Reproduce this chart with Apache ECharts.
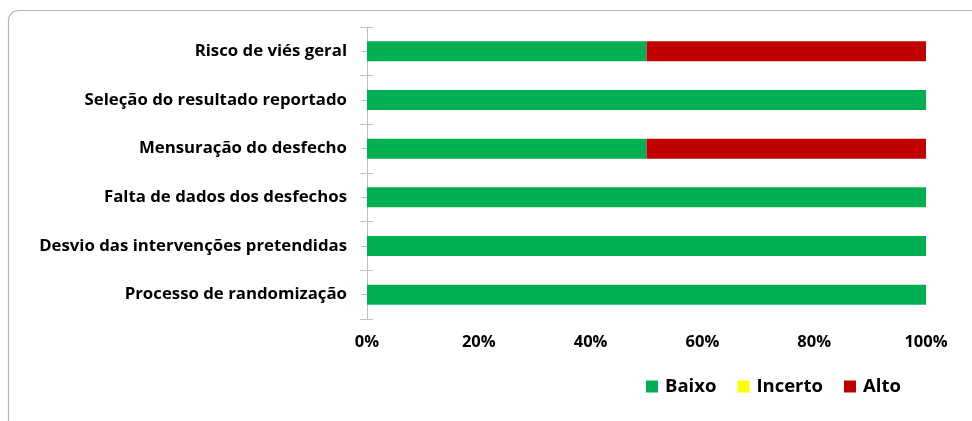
<!DOCTYPE html>
<html lang="pt">
<head>
    <meta charset="UTF-8" />
    <title>Risco de viés</title>
    <script src="https://cdn.jsdelivr.net/npm/echarts@6/dist/echarts.min.js"></script>
    <style>
        html, body { margin: 0; padding: 0; background: #fff; }
    </style>
</head>
<body>
<div id="main" style="width: 972px;height:421px;"></div>
<script type="text/javascript">
    // categorias de baixo para cima (eixo de categorias do ECharts sobe)
    var categorias = ['Processo de randomização', 'Desvio das intervenções pretendidas',
        'Falta de dados dos desfechos', 'Mensuração do desfecho',
        'Seleção do resultado reportado', 'Risco de viés geral'];
    var baixo = [100, 100, 100, 50, 100, 50];
    var incerto = [0, 0, 0, 0, 0, 0];
    var alto = [0, 0, 0, 50, 0, 50];
    var xTicks = [0, 20, 40, 60, 80, 100];

    var fonte = '"Open Sans", "Noto Sans", sans-serif';
    var myChart = echarts.init(document.getElementById('main'));

    var option = {
        animation: false,
        graphic: [{
            type: 'rect',
            shape: { x: 8.5, y: 10.5, width: 1000, height: 500, r: 10 },
            style: { fill: 'none', stroke: '#b4b4b4', lineWidth: 1.2 },
            silent: true
        }],
        legend: {
            left: 646,
            top: 377,
            padding: 0,
            itemWidth: 12,
            itemHeight: 12,
            itemGap: 21,
            icon: 'rect',
            textStyle: { fontFamily: fonte, fontWeight: 'bold', fontSize: 18.5, color: '#000', padding: [0, 0, 0, 2] },
            data: ['Baixo', 'Incerto', 'Alto']
        },
        grid: { left: 367, right: 46, top: 27, bottom: 102, containLabel: false },
        xAxis: {
            type: 'value',
            min: 0,
            max: 100,
            interval: 20,
            axisLine: { show: false },
            axisTick: { show: false },
            splitLine: { show: false },
            axisLabel: {
                margin: 15,
                fontFamily: fonte, fontWeight: 'bold', fontSize: 16.5, color: '#000',
                formatter: function (v) { return xTicks.indexOf(v) >= 0 ? v + '%' : ''; }
            }
        },
        yAxis: [{
            type: 'category',
            data: categorias,
            axisLine: { show: true, lineStyle: { color: '#bfbfbf' } },
            axisTick: { show: true, length: 7, lineStyle: { color: '#bfbfbf' } },
            axisLabel: { margin: 20, fontFamily: fonte, fontWeight: 'bold', fontSize: 16.8, color: '#000' }
        }, {
            type: 'category',
            data: categorias,
            position: 'left',
            axisLine: { show: false },
            axisTick: { show: true, inside: true, length: 6, lineStyle: { color: '#bfbfbf' } },
            axisLabel: { show: false }
        }, {
            type: 'category',
            data: categorias,
            position: 'left',
            axisLine: { show: false },
            axisTick: { show: true, alignWithLabel: true, length: 6, lineStyle: { color: '#bfbfbf' } },
            axisLabel: { show: false }
        }],
        series: [
            {
                name: 'Baixo', type: 'bar', stack: 'total', barWidth: 20,
                itemStyle: { color: '#00b050' }, data: baixo
            },
            {
                name: 'Incerto', type: 'bar', stack: 'total', barWidth: 20,
                itemStyle: { color: '#ffff00' }, data: incerto
            },
            {
                name: 'Alto', type: 'bar', stack: 'total', barWidth: 20,
                itemStyle: { color: '#c00000' }, data: alto
            }
        ]
    };
    myChart.setOption(option);
</script>
</body>
</html>
